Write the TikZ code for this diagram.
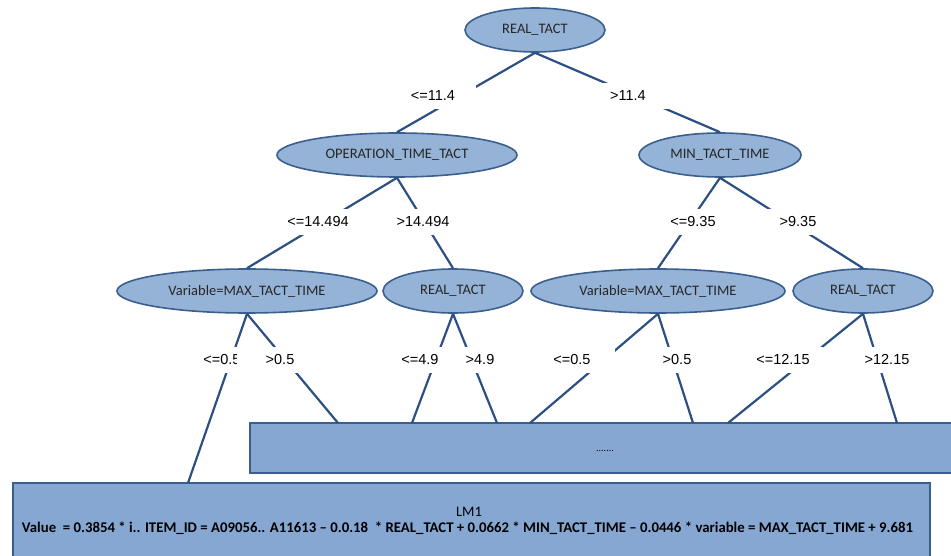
\documentclass[tikz,border=0pt]{standalone}
\usepackage{fontspec}
\setmainfont{Carlito}
\newfontfamily\lblfont{Liberation Sans}
\usetikzlibrary{shapes.geometric}
\definecolor{efill}{HTML}{95B3D7}
\definecolor{bfill}{HTML}{87A7D3}
\definecolor{edraw}{HTML}{3A5F8E}
\definecolor{lcol}{HTML}{2C4F84}
\tikzset{
  tnode/.style={ellipse, draw=edraw, fill=efill, line width=1.6pt, inner sep=0pt,
    font=\fontsize{14.5}{16}\selectfont, text=black!85},
  conn/.style={draw=lcol, line width=2.2pt},
  lbl/.style={fill=white, inner sep=0pt, minimum width=80pt, minimum height=26pt,
    font=\lblfont\fontsize{14.5}{16}\selectfont},
  rbox/.style={draw=edraw, fill=bfill, line width=1.6pt}
}
\begin{document}
\begin{tikzpicture}[x=1pt,y=-1pt]
\useasboundingbox (0,0) rectangle (951,556);
% ellipses
\node[tnode, minimum width=140pt, minimum height=44pt] (root) at (535,30) {REAL\_TACT};
\node[tnode, minimum width=240pt, minimum height=44pt] (op) at (397,155) {OPERATION\_TIME\_TACT};
\node[tnode, minimum width=162pt, minimum height=44pt] (min) at (720,155) {MIN\_TACT\_TIME};
\node[tnode, minimum width=260pt, minimum height=44pt] (varL) at (247,291) {Variable=MAX\_TACT\_TIME};
\node[tnode, minimum width=140pt, minimum height=44pt] (rtM) at (453,291) {REAL\_TACT};
\node[tnode, minimum width=254pt, minimum height=44pt] (varR) at (658,291) {Variable=MAX\_TACT\_TIME};
\node[tnode, minimum width=140pt, minimum height=44pt] (rtR) at (863,291) {REAL\_TACT};
% boxes
\draw[rbox] (250,423) rectangle (960,473);
\node[font=\fontsize{10}{12}\selectfont] (dots) at (605,451) {.......};
\draw[rbox] (13,483) rectangle (930,562);
\node[font=\fontsize{14.5}{16}\selectfont] (lmname) at (469,512) {LM1};
\node (lmval) at (467.5,528) {\resizebox{891pt}{!}{\bfseries Value\ \ = 0.3854 * i.. ITEM\_ID = A09056.. A11613 – 0.0.18\ \ * REAL\_TACT + 0.0662 * MIN\_TACT\_TIME – 0.0446 * variable = MAX\_TACT\_TIME + 9.681}};
% connector end points
\coordinate (eLM) at (188,483);
\coordinate (e1) at (338,423);
\coordinate (e2) at (412,423);
\coordinate (e3) at (497,423);
\coordinate (e4) at (530,423);
\coordinate (e5) at (693,423);
\coordinate (e6) at (728,423);
\coordinate (e7) at (897,423);
% connectors
\draw[conn] (root.south) -- (op.north);
\draw[conn] (root.south) -- (min.north);
\draw[conn] (op.south) -- (varL.north);
\draw[conn] (op.south) -- (rtM.north);
\draw[conn] (min.south) -- (varR.north);
\draw[conn] (min.south) -- (rtR.north);
\draw[conn] (varL.south) -- (eLM);
\draw[conn] (varL.south) -- (e1);
\draw[conn] (rtM.south) -- (e2);
\draw[conn] (rtM.south) -- (e3);
\draw[conn] (varR.south) -- (e4);
\draw[conn] (varR.south) -- (e5);
\draw[conn] (rtR.south) -- (e6);
\draw[conn] (rtR.south) -- (e7);
% labels
\node[lbl, minimum width=86pt] (l1) at (433,96) {<=11.4};
\node[lbl, minimum width=86pt] (l2) at (628,96) {>11.4};
\node[lbl] (l3) at (318,222) {<=14.494};
\node[lbl] (l4) at (423,222) {>14.494};
\node[lbl] (l5) at (693,222) {<=9.35};
\node[lbl] (l6) at (798,222) {>9.35};
\node[lbl] (l7) at (222,360) {<=0.5};
\node[lbl, minimum width=86pt] (l8) at (280,360) {>0.5};
\node[lbl] (l9) at (420,360) {<=4.9};
\node[lbl] (l10) at (480,360) {>4.9};
\node[lbl, minimum width=86pt] (l11) at (572,360) {<=0.5};
\node[lbl] (l12) at (677,360) {>0.5};
\node[lbl] (l13) at (783,360) {<=12.15};
\node[lbl] (l14) at (887,360) {>12.15};
\end{tikzpicture}
\end{document}
